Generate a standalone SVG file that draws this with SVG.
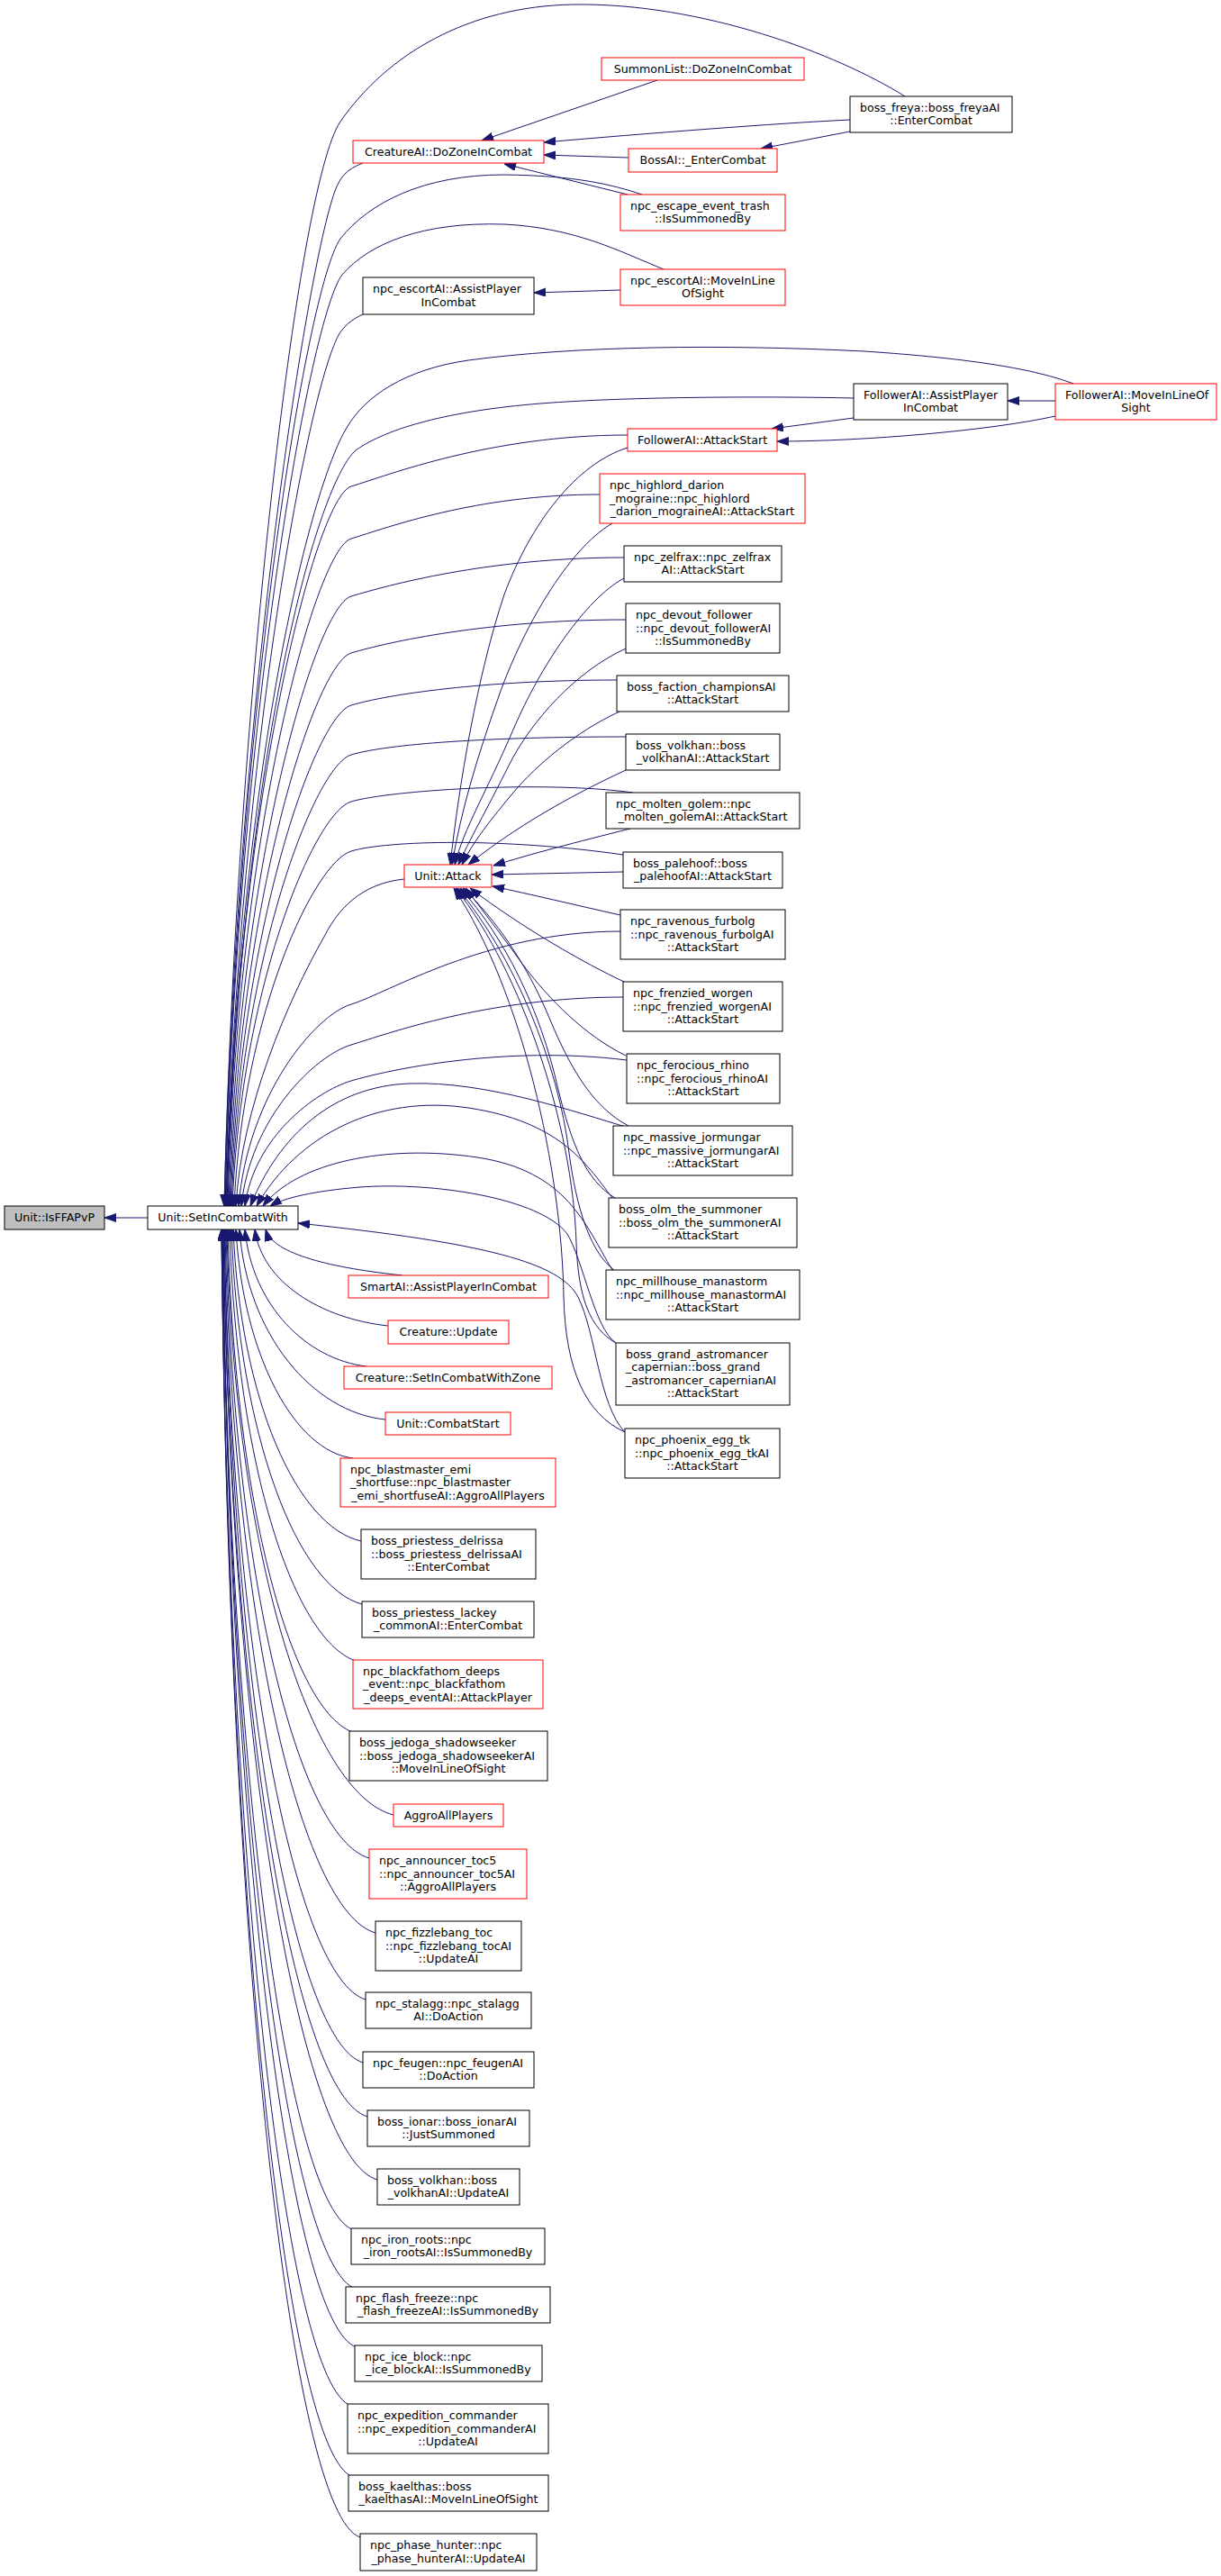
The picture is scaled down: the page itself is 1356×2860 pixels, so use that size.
<svg xmlns="http://www.w3.org/2000/svg" width="1356" height="2860" viewBox="0 0 1356 2860">
<style>
.t{font-family:"DejaVu Sans","Liberation Sans",sans-serif;font-size:12.6px;fill:#000}
.c{text-anchor:middle}
.n{fill:#fff;stroke:#000;stroke-width:1}
.r{fill:#fff;stroke:#ff0000;stroke-width:1}
.g{fill:#bfbfbf;stroke:#000;stroke-width:1}
.e{fill:none;stroke:#191970;stroke-width:1;marker-end:url(#ah)}
</style>
<defs>
<marker id="ah" markerUnits="userSpaceOnUse" markerWidth="13" markerHeight="10" refX="13" refY="4.5" orient="auto">
<path d="M0,0 L13,4.5 L0,9 z" fill="#191970" stroke="#191970" stroke-width="1"/>
</marker>
</defs>
<rect x="0" y="0" width="1356" height="2860" fill="#fff"/>
<g id="connectors">
<path class="e" d="M164,1352 L116,1352"/>
<!-- top region -->
<path class="e" d="M730,89 L535,156"/>
<path class="e" d="M944,133 C860,137 720,148 604,158"/>
<path class="e" d="M698,175 L604,172"/>
<path class="e" d="M944,146 L845,165"/>
<path class="e" d="M697,216 L560,182"/>
<path class="e" d="M689,322 L593,325"/>
<path class="e" d="M1172,445 L1119,445"/>
<path class="e" d="M948,464 L857,476"/>
<path class="e" d="M1172,462 C1100,478 960,490 863,490"/>
<!-- to SetInCombatWith from above -->
<path class="e" d="M1005,107 C930,60 780,3 637,5 C520,7 430,60 378,135 C330,205 262,800 249,1339"/>
<path class="e" d="M403,181 C385,188 378,196 372,212 C340,300 262,800 249,1339"/>
<path class="e" d="M713,216 C680,205 640,195 560,194 C470,194 410,225 378,265 C340,320 263,800 250,1339"/>
<path class="e" d="M737,299 C690,280 640,253 560,249 C470,246 410,270 380,305 C345,350 264,800 250,1339"/>
<path class="e" d="M403,349 C390,355 382,362 376,372 C340,440 265,850 251,1339"/>
<path class="e" d="M1192,426 C1150,410 1080,398 960,390 C800,382 640,384 520,400 C450,410 405,440 385,475 C345,540 266,850 251,1339"/>
<path class="e" d="M948,442 C860,440 700,440 600,448 C500,456 430,475 395,500 C350,540 267,850 252,1339"/>
<path class="e" d="M697,483 C544,483 430,528 390,540 S262,900 252,1339"/>
<path class="e" d="M666,549 C528,549 430,586 390,598 S263,931 253,1339"/>
<path class="e" d="M693,619 C541,619 430,650 390,662 S264,967 254,1339"/>
<path class="e" d="M695,688 C542,688 430,713 390,725 S265,1001 255,1339"/>
<path class="e" d="M685,755 C537,755 430,771 390,783 S266,1033 256,1339"/>
<path class="e" d="M695,818 C542,818 430,826 390,838 S267,1063 257,1339"/>
<path class="e" d="M703,880 C600,866 430,878 390,890 S268,1092 258,1339"/>
<path class="e" d="M692,949 C560,930 430,933 390,945 S270,1122 260,1339"/>
<path class="e" d="M449,976 C410,980 380,1000 360,1040 C320,1110 268,1230 262,1339"/>
<path class="e" d="M689,1034 C540,1034 430,1103 390,1115 S275,1216 265,1339"/>
<path class="e" d="M693,1107 C541,1107 430,1148 390,1160 S278,1241 268,1339"/>
<path class="e" d="M696,1177 C560,1160 430,1188 390,1200 S282,1263 272,1339"/>
<path class="e" d="M698,1252 C640,1235 540,1200 455,1203 S310,1260 278,1339"/>
<path class="e" d="M680,1330 C650,1290 620,1245 520,1230 S330,1260 285,1339"/>
<path class="e" d="M680,1410 C650,1360 630,1300 530,1285 S330,1290 292,1339"/>
<path class="e" d="M684,1491 C660,1475 648,1400 630,1370 C600,1330 480,1312 400,1318 C350,1322 315,1330 300,1339"/>
<path class="e" d="M694,1590 C665,1560 662,1480 642,1440 C622,1402 540,1380 331,1358"/>
<!-- to Unit::Attack -->
<path class="e" d="M697,497 C640,515 590,580 560,660 C530,750 510,870 500,960"/>
<path class="e" d="M680,581 C630,610 580,700 555,770 C530,840 512,900 502,960"/>
<path class="e" d="M693,642 C650,665 600,740 570,810 C540,880 515,920 505,960"/>
<path class="e" d="M695,720 C640,745 590,800 565,850 C540,900 520,935 509,960"/>
<path class="e" d="M688,790 C640,812 595,850 570,880 C545,910 525,935 513,960"/>
<path class="e" d="M695,855 C630,885 570,920 520,960"/>
<path class="e" d="M700,920 C640,935 590,948 548,961"/>
<path class="e" d="M692,968 L546,971"/>
<path class="e" d="M689,1016 C640,1005 590,993 547,984"/>
<path class="e" d="M693,1090 C650,1070 580,1030 522,986"/>
<path class="e" d="M695,1172 C650,1150 610,1110 580,1070 C555,1035 535,1010 517,986"/>
<path class="e" d="M698,1250 C660,1230 635,1190 610,1130 C585,1070 550,1020 514,986"/>
<path class="e" d="M683,1330 C650,1310 635,1270 620,1210 C600,1120 560,1040 511,986"/>
<path class="e" d="M682,1410 C655,1390 640,1340 632,1280 C620,1180 570,1060 508,986"/>
<path class="e" d="M684,1491 C655,1475 642,1440 640,1380 C636,1250 580,1080 506,986"/>
<path class="e" d="M694,1590 C650,1570 628,1520 626,1440 C624,1300 580,1100 504,986"/>
<!-- to SetInCombatWith from below -->
<path class="e" d="M447,1416 C371,1408 303,1393 295,1365"/>
<path class="e" d="M431,1472 C357,1464 291,1424 283,1365"/>
<path class="e" d="M407,1517 C340,1509 280,1449 272,1365"/>
<path class="e" d="M428,1576 C347,1568 274,1481 266,1365"/>
<path class="e" d="M392,1619 C327,1611 270,1505 262,1365"/>
<path class="e" d="M401,1711 C330,1695 267,1555 259,1365"/>
<path class="e" d="M402,1781 C330,1762 265,1594 257,1365"/>
<path class="e" d="M398,1845 C327,1825 263,1629 255,1365"/>
<path class="e" d="M394,1924 C324,1902 261,1672 253,1365"/>
<path class="e" d="M437,2015 C345,1992 260,1722 252,1365"/>
<path class="e" d="M410,2063 C331,2040 259,1749 251,1365"/>
<path class="e" d="M417,2146 C334,2122 258,1794 250,1365"/>
<path class="e" d="M406,2220 C328,2196 257,1835 249,1365"/>
<path class="e" d="M403,2290 C326,2266 257,1874 249,1365"/>
<path class="e" d="M408,2350 C328,2326 256,1907 248,1365"/>
<path class="e" d="M419,2420 C334,2396 256,1945 248,1365"/>
<path class="e" d="M393,2476 C320,2452 255,1976 247,1365"/>
<path class="e" d="M395,2541 C321,2517 255,2012 247,1365"/>
<path class="e" d="M396,2606 C322,2582 255,2048 247,1365"/>
<path class="e" d="M390,2671 C318,2647 254,2083 246,1365"/>
<path class="e" d="M392,2750 C319,2726 254,2127 246,1365"/>
<path class="e" d="M400,2817 C323,2792 254,2164 246,1365"/>
</g>
<g id="node-isffapvp"><rect class="g" x="5" y="1339" width="111" height="26"/><text class="t c" x="60.5" y="1356">Unit::IsFFAPvP</text></g>
<g id="node-setincombatwith"><rect class="n" x="164" y="1339" width="167" height="26"/><text class="t c" x="247.5" y="1356">Unit::SetInCombatWith</text></g>
<g id="node-creatureai-dozoneincombat"><rect class="r" x="392" y="156" width="212" height="25"/><text class="t c" x="498" y="172.5">CreatureAI::DoZoneInCombat</text></g>
<g id="node-summonlist"><rect class="r" x="668" y="64" width="225" height="25"/><text class="t c" x="780.5" y="80.5">SummonList::DoZoneInCombat</text></g>
<g id="node-bossai-entercombat"><rect class="r" x="698" y="165" width="165" height="26"/><text class="t c" x="780.5" y="182">BossAI::_EnterCombat</text></g>
<g id="node-escape-trash"><rect class="r" x="689" y="216" width="183" height="40"/><text class="t" x="700" y="232.75">npc_escape_event_trash</text><text class="t c" x="780.5" y="247.25">::IsSummonedBy</text></g>
<g id="node-freya"><rect class="n" x="944" y="107" width="180" height="40"/><text class="t" x="955" y="123.75">boss_freya::boss_freyaAI</text><text class="t c" x="1034" y="138.25">::EnterCombat</text></g>
<g id="node-escort-assist"><rect class="n" x="403" y="308" width="190" height="41"/><text class="t" x="414" y="325.25">npc_escortAI::AssistPlayer</text><text class="t c" x="498" y="339.75">InCombat</text></g>
<g id="node-escort-move"><rect class="r" x="689" y="299" width="183" height="40"/><text class="t" x="700" y="315.75">npc_escortAI::MoveInLine</text><text class="t c" x="780.5" y="330.25">OfSight</text></g>
<g id="node-follower-assist"><rect class="n" x="948" y="426" width="171" height="40"/><text class="t" x="959" y="442.75">FollowerAI::AssistPlayer</text><text class="t c" x="1033.5" y="457.25">InCombat</text></g>
<g id="node-follower-move"><rect class="r" x="1172" y="426" width="179" height="40"/><text class="t" x="1183" y="442.75">FollowerAI::MoveInLineOf</text><text class="t c" x="1261.5" y="457.25">Sight</text></g>
<g id="node-follower-attack"><rect class="r" x="697" y="476" width="166" height="25"/><text class="t c" x="780" y="492.5">FollowerAI::AttackStart</text></g>
<g id="node-highlord"><rect class="r" x="666" y="526" width="228" height="55"/><text class="t" x="677" y="543">npc_highlord_darion</text><text class="t" x="677" y="557.5">_mograine::npc_highlord</text><text class="t c" x="780" y="572">_darion_mograineAI::AttackStart</text></g>
<g id="node-zelfrax"><rect class="n" x="693" y="606" width="175" height="40"/><text class="t" x="704" y="622.75">npc_zelfrax::npc_zelfrax</text><text class="t c" x="780.5" y="637.25">AI::AttackStart</text></g>
<g id="node-devout"><rect class="n" x="695" y="670" width="171" height="55"/><text class="t" x="706" y="687">npc_devout_follower</text><text class="t" x="706" y="701.5">::npc_devout_followerAI</text><text class="t c" x="780.5" y="716">::IsSummonedBy</text></g>
<g id="node-faction"><rect class="n" x="685" y="750" width="191" height="40"/><text class="t" x="696" y="766.75">boss_faction_championsAI</text><text class="t c" x="780.5" y="781.25">::AttackStart</text></g>
<g id="node-volkhan-attack"><rect class="n" x="695" y="815" width="171" height="40"/><text class="t" x="706" y="831.75">boss_volkhan::boss</text><text class="t c" x="780.5" y="846.25">_volkhanAI::AttackStart</text></g>
<g id="node-molten"><rect class="n" x="673" y="880" width="215" height="40"/><text class="t" x="684" y="896.75">npc_molten_golem::npc</text><text class="t c" x="780.5" y="911.25">_molten_golemAI::AttackStart</text></g>
<g id="node-palehoof"><rect class="n" x="692" y="946" width="177" height="40"/><text class="t" x="703" y="962.75">boss_palehoof::boss</text><text class="t c" x="780.5" y="977.25">_palehoofAI::AttackStart</text></g>
<g id="node-unit-attack"><rect class="r" x="449" y="960" width="97" height="25"/><text class="t c" x="497.5" y="976.5">Unit::Attack</text></g>
<g id="node-ravenous"><rect class="n" x="689" y="1010" width="183" height="55"/><text class="t" x="700" y="1027">npc_ravenous_furbolg</text><text class="t" x="700" y="1041.5">::npc_ravenous_furbolgAI</text><text class="t c" x="780.5" y="1056">::AttackStart</text></g>
<g id="node-frenzied"><rect class="n" x="692" y="1090" width="177" height="55"/><text class="t" x="703" y="1107">npc_frenzied_worgen</text><text class="t" x="703" y="1121.5">::npc_frenzied_worgenAI</text><text class="t c" x="780.5" y="1136">::AttackStart</text></g>
<g id="node-ferocious"><rect class="n" x="696" y="1170" width="170" height="55"/><text class="t" x="707" y="1187">npc_ferocious_rhino</text><text class="t" x="707" y="1201.5">::npc_ferocious_rhinoAI</text><text class="t c" x="781" y="1216">::AttackStart</text></g>
<g id="node-massive"><rect class="n" x="681" y="1250" width="199" height="55"/><text class="t" x="692" y="1267">npc_massive_jormungar</text><text class="t" x="692" y="1281.5">::npc_massive_jormungarAI</text><text class="t c" x="780.5" y="1296">::AttackStart</text></g>
<g id="node-olm"><rect class="n" x="676" y="1330" width="209" height="55"/><text class="t" x="687" y="1347">boss_olm_the_summoner</text><text class="t" x="687" y="1361.5">::boss_olm_the_summonerAI</text><text class="t c" x="780.5" y="1376">::AttackStart</text></g>
<g id="node-millhouse"><rect class="n" x="673" y="1410" width="215" height="55"/><text class="t" x="684" y="1427">npc_millhouse_manastorm</text><text class="t" x="684" y="1441.5">::npc_millhouse_manastormAI</text><text class="t c" x="780.5" y="1456">::AttackStart</text></g>
<g id="node-grand"><rect class="n" x="684" y="1491" width="193" height="69"/><text class="t" x="695" y="1507.75">boss_grand_astromancer</text><text class="t" x="695" y="1522.25">_capernian::boss_grand</text><text class="t" x="695" y="1536.75">_astromancer_capernianAI</text><text class="t c" x="780.5" y="1551.25">::AttackStart</text></g>
<g id="node-phoenix"><rect class="n" x="694" y="1586" width="172" height="55"/><text class="t" x="705" y="1603">npc_phoenix_egg_tk</text><text class="t" x="705" y="1617.5">::npc_phoenix_egg_tkAI</text><text class="t c" x="780" y="1632">::AttackStart</text></g>
<g id="node-smartai"><rect class="r" x="387" y="1416" width="222" height="25"/><text class="t c" x="498" y="1432.5">SmartAI::AssistPlayerInCombat</text></g>
<g id="node-creature-update"><rect class="r" x="431" y="1466" width="134" height="26"/><text class="t c" x="498" y="1483">Creature::Update</text></g>
<g id="node-creature-sicwz"><rect class="r" x="382" y="1517" width="231" height="25"/><text class="t c" x="497.5" y="1533.5">Creature::SetInCombatWithZone</text></g>
<g id="node-combatstart"><rect class="r" x="428" y="1568" width="139" height="25"/><text class="t c" x="497.5" y="1584.5">Unit::CombatStart</text></g>
<g id="node-blastmaster"><rect class="r" x="378" y="1619" width="239" height="54"/><text class="t" x="389" y="1635.5">npc_blastmaster_emi</text><text class="t" x="389" y="1650">_shortfuse::npc_blastmaster</text><text class="t c" x="497.5" y="1664.5">_emi_shortfuseAI::AggroAllPlayers</text></g>
<g id="node-delrissa"><rect class="n" x="401" y="1698" width="194" height="55"/><text class="t" x="412" y="1715">boss_priestess_delrissa</text><text class="t" x="412" y="1729.5">::boss_priestess_delrissaAI</text><text class="t c" x="498" y="1744">::EnterCombat</text></g>
<g id="node-lackey"><rect class="n" x="402" y="1778" width="191" height="40"/><text class="t" x="413" y="1794.75">boss_priestess_lackey</text><text class="t c" x="497.5" y="1809.25">_commonAI::EnterCombat</text></g>
<g id="node-blackfathom"><rect class="r" x="392" y="1843" width="211" height="54"/><text class="t" x="403" y="1859.5">npc_blackfathom_deeps</text><text class="t" x="403" y="1874">_event::npc_blackfathom</text><text class="t c" x="497.5" y="1888.5">_deeps_eventAI::AttackPlayer</text></g>
<g id="node-jedoga"><rect class="n" x="388" y="1922" width="220" height="55"/><text class="t" x="399" y="1939">boss_jedoga_shadowseeker</text><text class="t" x="399" y="1953.5">::boss_jedoga_shadowseekerAI</text><text class="t c" x="498" y="1968">::MoveInLineOfSight</text></g>
<g id="node-aggroallplayers"><rect class="r" x="437" y="2003" width="122" height="25"/><text class="t c" x="498" y="2019.5">AggroAllPlayers</text></g>
<g id="node-announcer"><rect class="r" x="410" y="2053" width="175" height="55"/><text class="t" x="421" y="2070">npc_announcer_toc5</text><text class="t" x="421" y="2084.5">::npc_announcer_toc5AI</text><text class="t c" x="497.5" y="2099">::AggroAllPlayers</text></g>
<g id="node-fizzlebang"><rect class="n" x="417" y="2133" width="162" height="55"/><text class="t" x="428" y="2150">npc_fizzlebang_toc</text><text class="t" x="428" y="2164.5">::npc_fizzlebang_tocAI</text><text class="t c" x="498" y="2179">::UpdateAI</text></g>
<g id="node-stalagg"><rect class="n" x="406" y="2212" width="184" height="40"/><text class="t" x="417" y="2228.75">npc_stalagg::npc_stalagg</text><text class="t c" x="498" y="2243.25">AI::DoAction</text></g>
<g id="node-feugen"><rect class="n" x="403" y="2278" width="190" height="40"/><text class="t" x="414" y="2294.75">npc_feugen::npc_feugenAI</text><text class="t c" x="498" y="2309.25">::DoAction</text></g>
<g id="node-ionar"><rect class="n" x="408" y="2343" width="180" height="40"/><text class="t" x="419" y="2359.75">boss_ionar::boss_ionarAI</text><text class="t c" x="498" y="2374.25">::JustSummoned</text></g>
<g id="node-volkhan-update"><rect class="n" x="419" y="2408" width="158" height="40"/><text class="t" x="430" y="2424.75">boss_volkhan::boss</text><text class="t c" x="498" y="2439.25">_volkhanAI::UpdateAI</text></g>
<g id="node-iron-roots"><rect class="n" x="390" y="2474" width="215" height="40"/><text class="t" x="401" y="2490.75">npc_iron_roots::npc</text><text class="t c" x="497.5" y="2505.25">_iron_rootsAI::IsSummonedBy</text></g>
<g id="node-flash-freeze"><rect class="n" x="384" y="2539" width="227" height="40"/><text class="t" x="395" y="2555.75">npc_flash_freeze::npc</text><text class="t c" x="497.5" y="2570.25">_flash_freezeAI::IsSummonedBy</text></g>
<g id="node-ice-block"><rect class="n" x="394" y="2604" width="208" height="40"/><text class="t" x="405" y="2620.75">npc_ice_block::npc</text><text class="t c" x="498" y="2635.25">_ice_blockAI::IsSummonedBy</text></g>
<g id="node-expedition"><rect class="n" x="386" y="2669" width="223" height="55"/><text class="t" x="397" y="2686">npc_expedition_commander</text><text class="t" x="397" y="2700.5">::npc_expedition_commanderAI</text><text class="t c" x="497.5" y="2715">::UpdateAI</text></g>
<g id="node-kaelthas"><rect class="n" x="387" y="2748" width="222" height="40"/><text class="t" x="398" y="2764.75">boss_kaelthas::boss</text><text class="t c" x="498" y="2779.25">_kaelthasAI::MoveInLineOfSight</text></g>
<g id="node-phase-hunter"><rect class="n" x="400" y="2813" width="196" height="41"/><text class="t" x="411" y="2830.25">npc_phase_hunter::npc</text><text class="t c" x="498" y="2844.75">_phase_hunterAI::UpdateAI</text></g>
</svg>
